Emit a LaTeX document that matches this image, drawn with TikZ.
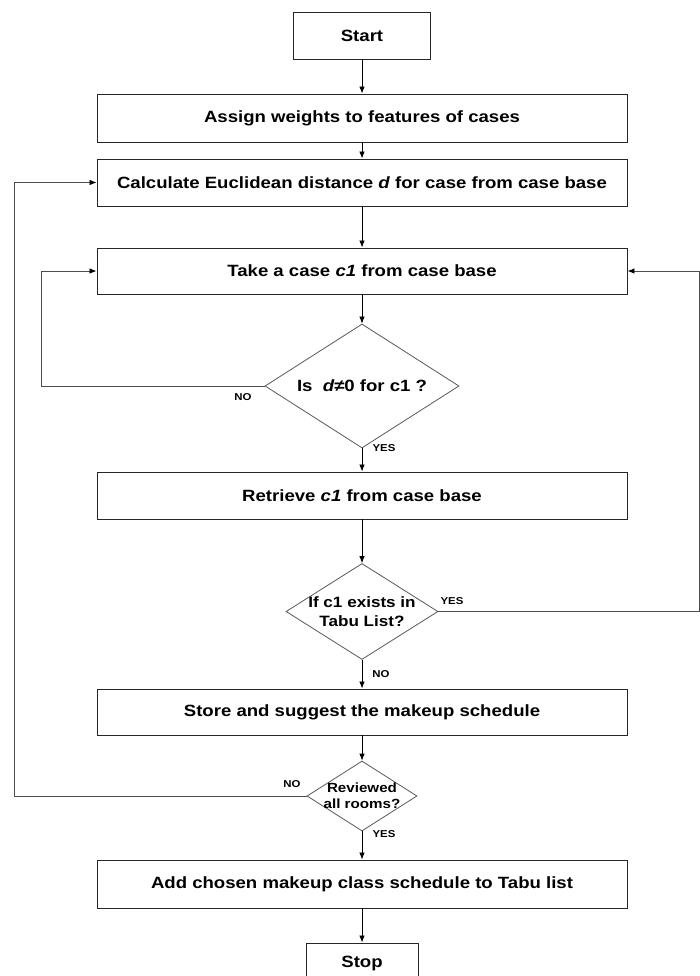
\documentclass[tikz,border=0pt]{standalone}
\usepackage{fontspec}
\setmainfont{Liberation Sans}[FakeStretch=1.14]
\usetikzlibrary{shapes.geometric,arrows.meta}
\begin{document}
\begin{tikzpicture}[x=1pt,y=-1pt,
  box/.style={draw=black!85, line width=0.9pt, fill=white, minimum width=530pt, minimum height=47pt, inner sep=0pt,
    font=\fontsize{16.3}{19}\selectfont\bfseries},
  dia/.style={draw=black!65, line width=0.8pt, diamond, inner sep=0pt},
  dtext/.style={align=center, inner sep=0pt},
  arr/.style={-{Latex[length=7pt,width=5.5pt,color=black]}, line width=0.8pt, black},
  loop/.style={arr, draw=black!70},
  lbl/.style={font=\fontsize{10}{12}\selectfont\bfseries, inner sep=0pt}
]
\useasboundingbox (0,0) rectangle (700,976);
\fill[white] (0,0) rectangle (700,976);

\node[box, minimum width=137pt] (start) at (362,35.5) {Start};
\node[box, minimum height=48pt] (assign) at (362,118) {Assign weights to features of cases};
\node[box] (calc) at (362,182.5) {Calculate Euclidean distance \textit{d} for case from case base};
\node[box, minimum height=46pt] (take) at (362,271) {Take a case \textit{c1} from case base};
\node[dia, minimum width=194pt, minimum height=124pt] (d1) at (362,386) {};
\node[dtext, font=\fontsize{16.3}{19}\selectfont\bfseries] (t1) at (d1) {Is\ \ \textit{d≠}0 for c1 ?};
\node[box] (retr) at (362,495.5) {Retrieve \textit{c1} from case base};
\node[dia, minimum width=152pt, minimum height=96pt] (d2) at (362,611.5) {};
\node[dtext, font=\fontsize{15}{18.5}\selectfont\bfseries] (t2) at (d2) {If c1 exists in\\Tabu List?};
\node[box, minimum height=46pt] (store) at (362,712) {Store and suggest the makeup schedule};
\node[dia, minimum width=110pt, minimum height=70pt] (d3) at (362,796) {};
\node[dtext, font=\fontsize{13.3}{16}\selectfont\bfseries] (t3) at (d3) {Reviewed\\all rooms?};
\node[box, minimum height=48pt] (add) at (362,884) {Add chosen makeup class schedule to Tabu list};
\node[box, minimum width=112pt, minimum height=40pt] (stop) at (362,963) {Stop};

\coordinate (n1) at (41,0);
\coordinate (n2) at (699,0);
\coordinate (n3) at (14,0);

\draw[arr] (start) -- (assign);
\draw[arr] (assign) -- (calc);
\draw[arr] (calc) -- (take);
\draw[arr] (take) -- (d1);
\draw[arr] (d1) -- (retr);
\draw[arr] (retr) -- (d2);
\draw[arr] (d2) -- (store);
\draw[arr] (store) -- (d3);
\draw[arr] (d3) -- (add);
\draw[arr] (add) -- (stop);

\draw[loop] (d1.west) -- (d1.west -| n1) |- (take.west);
\draw[loop] (d2.east) -- (d2.east -| n2) |- (take.east);
\draw[loop] (d3.west) -- (d3.west -| n3) |- (calc.west);

\node[lbl] (no1) at (243,397) {NO};
\node[lbl] (yes1) at (384,448) {YES};
\node[lbl] (yes2) at (452,601) {YES};
\node[lbl] (no2) at (381,674) {NO};
\node[lbl] (no3) at (292,784) {NO};
\node[lbl] (yes3) at (384,834) {YES};
\end{tikzpicture}
\end{document}
